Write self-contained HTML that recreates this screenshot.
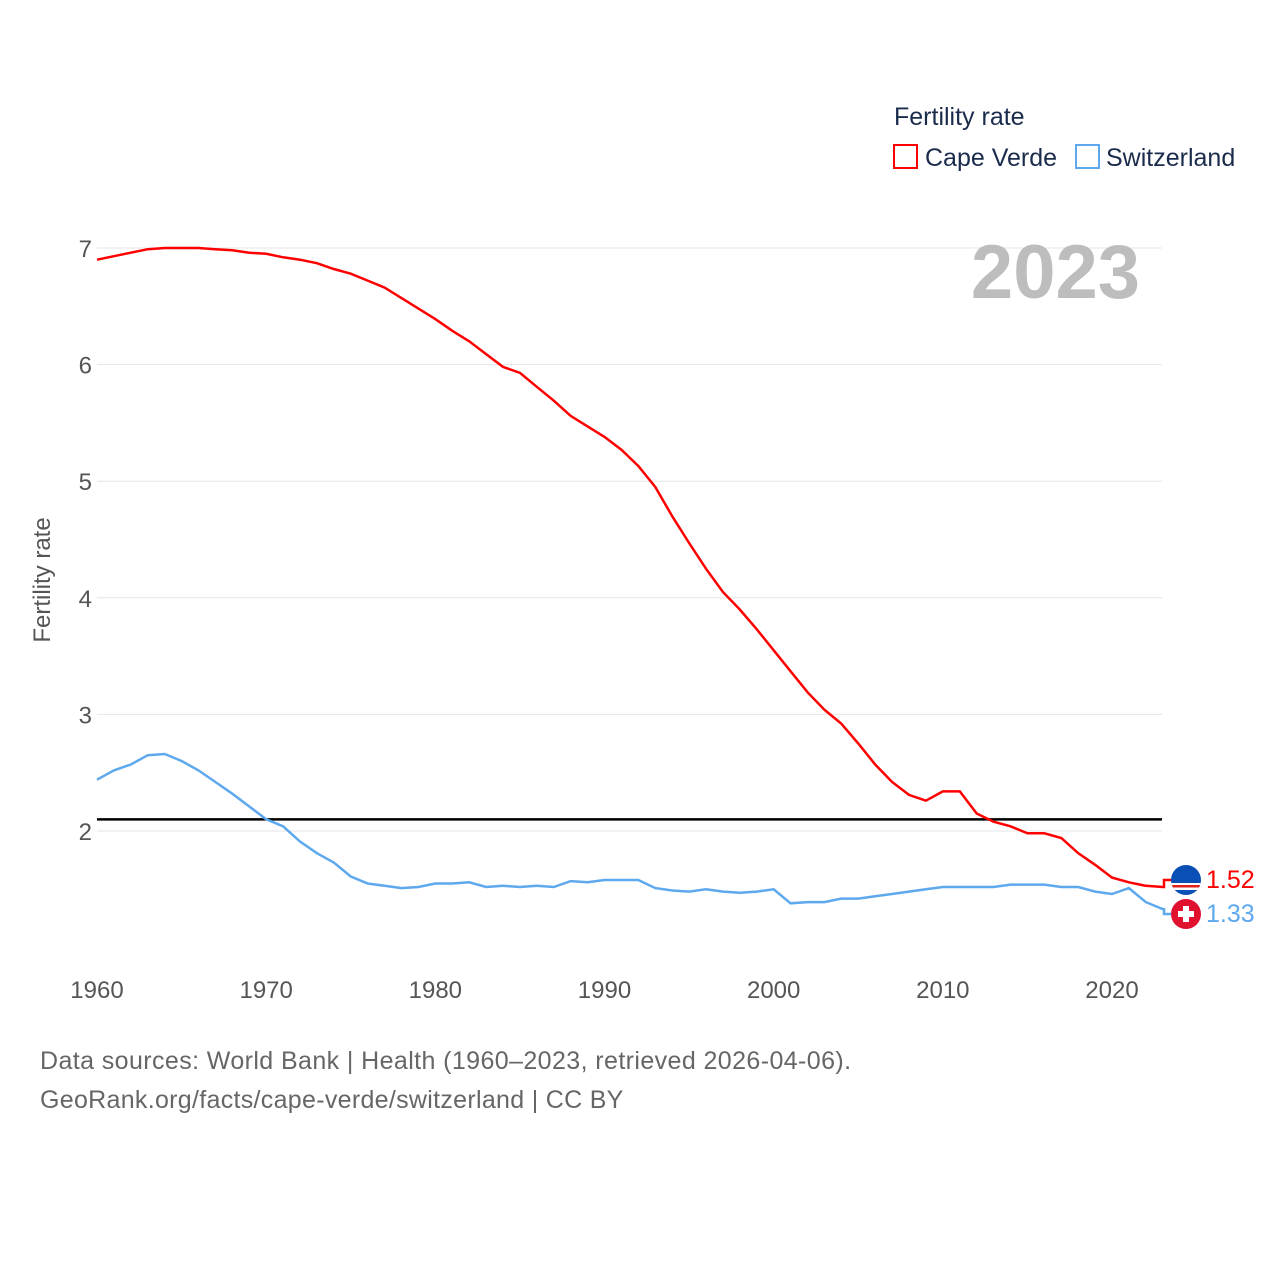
<!DOCTYPE html>
<html><head><meta charset="utf-8"><style>
body{margin:0;background:#fff;}
svg text{font-family:"Liberation Sans",sans-serif;}
</style></head><body>
<svg width="1280" height="1280" viewBox="0 0 1280 1280">
<g id="grid"></g>
<g id="yt"></g>
<g id="xt"></g>
<text x="50" y="580" transform="rotate(-90 50 580)" text-anchor="middle" font-size="24" fill="#555">Fertility rate</text>
<text x="1140" y="298" text-anchor="end" font-size="76" font-weight="bold" fill="#bdbdbd">2023</text>
<g>
<text x="894" y="125" font-size="25" fill="#1a2b4c">Fertility rate</text>
<g><rect x="894" y="145" width="23" height="23" fill="none" stroke="#f00" stroke-width="2"/><text x="925" y="166" font-size="25" fill="#1a2b4c">Cape Verde</text></g>
<g><rect x="1076" y="145" width="23" height="23" fill="none" stroke="#5ea8ee" stroke-width="2"/><text x="1106" y="166" font-size="25" fill="#1a2b4c">Switzerland</text></g>
</g>
<line id="ref" x1="97" x2="1162" stroke="#000" stroke-width="2.5"/>
<path id="cv" fill="none" stroke="#f00" stroke-width="2.5"/>
<path id="ch" fill="none" stroke="#5ea8ee" stroke-width="2.5"/>
<g>
<clipPath id="c1"><circle cx="1186" cy="880" r="15"/></clipPath>
<g clip-path="url(#c1)"><rect x="1170" y="864" width="32" height="32" fill="#0a4fb5"/><rect x="1170" y="883" width="32" height="7" fill="#fff"/><rect x="1170" y="885" width="32" height="2.5" fill="#e0201b"/></g>
</g>
<g>
<circle cx="1186" cy="914" r="15" fill="#e0102f"/><rect x="1183" y="906" width="6" height="16" fill="#fff"/><rect x="1178" y="911" width="16" height="6" fill="#fff"/>
</g>
<text x="1206" y="888" font-size="25" fill="#f00">1.52</text>
<text x="1206" y="922" font-size="25" fill="#5ea8ee">1.33</text>
<text x="40" y="1069" font-size="25" fill="#666" letter-spacing="0.4">Data sources: World Bank | Health (1960–2023, retrieved 2026-04-06).</text>
<text x="40" y="1108" font-size="25" fill="#666" letter-spacing="0.3">GeoRank.org/facts/cape-verde/switzerland | CC BY</text>
</svg>
<script>
const years=[];for(let y=1960;y<=2023;y++)years.push(y);
const capeVerde=[6.90,6.93,6.96,6.99,7.00,7.00,7.00,6.99,6.98,6.96,6.95,6.92,6.90,6.87,6.82,6.78,6.72,6.66,6.57,6.48,6.39,6.29,6.20,6.09,5.98,5.93,5.81,5.69,5.56,5.47,5.38,5.27,5.13,4.95,4.70,4.47,4.25,4.05,3.90,3.73,3.55,3.37,3.19,3.04,2.92,2.75,2.57,2.42,2.31,2.26,2.34,2.34,2.15,2.08,2.04,1.98,1.98,1.94,1.81,1.71,1.60,1.56,1.53,1.52];
const switzerland=[2.44,2.52,2.57,2.65,2.66,2.60,2.52,2.42,2.32,2.21,2.10,2.04,1.91,1.81,1.73,1.61,1.55,1.53,1.51,1.52,1.55,1.55,1.56,1.52,1.53,1.52,1.53,1.52,1.57,1.56,1.58,1.58,1.58,1.51,1.49,1.48,1.50,1.48,1.47,1.48,1.50,1.38,1.39,1.39,1.42,1.42,1.44,1.46,1.48,1.50,1.52,1.52,1.52,1.52,1.54,1.54,1.54,1.52,1.52,1.48,1.46,1.51,1.39,1.33];
const yTicks=[2,3,4,5,6,7];
const xTicks=[1960,1970,1980,1990,2000,2010,2020];
const refValue=2.1;
const X=y=>97+(y-1960)*(1015/60);
const Y=v=>831-(v-2)*116.6;
const NS="http://www.w3.org/2000/svg";
const grid=document.getElementById('grid'),yt=document.getElementById('yt'),xt=document.getElementById('xt');
yTicks.forEach(t=>{
 const l=document.createElementNS(NS,'line');
 
 
 l.setAttribute('x1',97);l.setAttribute('x2',1162);l.setAttribute('y1',Y(t));l.setAttribute('y2',Y(t));
 l.setAttribute('stroke','#e6e6e6');l.setAttribute('stroke-width',1);grid.appendChild(l);
 const tx=document.createElementNS(NS,'text');
 
 
 tx.setAttribute('x',92);tx.setAttribute('y',Y(t)+9);tx.setAttribute('text-anchor','end');
 tx.setAttribute('font-size',24);tx.setAttribute('fill','#555');tx.textContent=t;yt.appendChild(tx);
});
xTicks.forEach(t=>{
 const tx=document.createElementNS(NS,'text');
 
 
 tx.setAttribute('x',X(t));tx.setAttribute('y',998);tx.setAttribute('text-anchor','middle');
 tx.setAttribute('font-size',24);tx.setAttribute('fill','#555');tx.textContent=t;xt.appendChild(tx);
});
const ref=document.getElementById('ref');ref.setAttribute('y1',Y(refValue));ref.setAttribute('y2',Y(refValue));
function path(vals,fy){let d=vals.map((v,i)=>(i?'L':'M')+X(years[i]).toFixed(1)+','+Y(v).toFixed(1)).join('');
 const ly=Y(vals[vals.length-1]);d+='L1164,'+ly.toFixed(1)+'L1164,'+fy+'L1172,'+fy;return d;}
document.getElementById('cv').setAttribute('d',path(capeVerde,880));
document.getElementById('ch').setAttribute('d',path(switzerland,914));
</script>
</body></html>
